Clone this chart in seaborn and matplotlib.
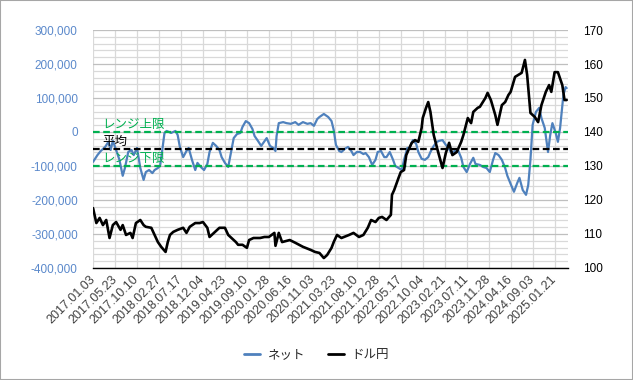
import pandas as pd
import matplotlib
matplotlib.use('Agg')
import matplotlib.pyplot as plt
import matplotlib.ticker as mticker
import matplotlib.transforms as mtransforms
from matplotlib.lines import Line2D
from matplotlib.patches import Rectangle
import seaborn as sns

# ネット（投機筋ポジション）: 週次の主な点を読み取り
net_dates = [
    '2017-01-03', '2017-01-31', '2017-02-21', '2017-03-21', '2017-04-11', '2017-04-25', '2017-05-09',
    '2017-05-30', '2017-06-20', '2017-07-11', '2017-07-25', '2017-08-15', '2017-09-05', '2017-09-19',
    '2017-10-10', '2017-10-31', '2017-11-21', '2017-12-05', '2017-12-26', '2018-01-16', '2018-01-30',
    '2018-02-20', '2018-03-06', '2018-03-20', '2018-04-03', '2018-04-17', '2018-05-15', '2018-06-12',
    '2018-06-26', '2018-07-10', '2018-07-31', '2018-08-21', '2018-09-04', '2018-09-25', '2018-10-16',
    '2018-10-30', '2018-11-20', '2018-12-11', '2019-01-01', '2019-01-15', '2019-02-05', '2019-02-26',
    '2019-03-19', '2019-04-02', '2019-04-23', '2019-05-14', '2019-06-04', '2019-06-18', '2019-07-09',
    '2019-07-30', '2019-08-13', '2019-09-03', '2019-09-24', '2019-10-15', '2019-10-29', '2019-11-19',
    '2019-12-10', '2019-12-24', '2020-01-14', '2020-02-04', '2020-02-25', '2020-03-10', '2020-03-17',
    '2020-03-31', '2020-04-28', '2020-05-19', '2020-06-16', '2020-07-14', '2020-08-04', '2020-09-01',
    '2020-09-29', '2020-10-20', '2020-11-10', '2020-12-01', '2020-12-15', '2021-01-12', '2021-02-09',
    '2021-03-02', '2021-03-16', '2021-03-30', '2021-04-20', '2021-05-04', '2021-05-25', '2021-06-15',
    '2021-07-06', '2021-07-20', '2021-08-10', '2021-08-31', '2021-09-21', '2021-10-05', '2021-10-26',
    '2021-11-16', '2021-12-07', '2021-12-21', '2022-01-11', '2022-02-01', '2022-02-15', '2022-03-08',
    '2022-03-29', '2022-04-12', '2022-05-03', '2022-05-24', '2022-06-07', '2022-06-28', '2022-07-12',
    '2022-08-02', '2022-08-23', '2022-09-06', '2022-09-27', '2022-10-18', '2022-11-08', '2022-11-22',
    '2022-12-13', '2023-01-03', '2023-01-17', '2023-02-07', '2023-02-28', '2023-03-21', '2023-04-04',
    '2023-04-25', '2023-05-16', '2023-06-06', '2023-06-20', '2023-07-11', '2023-08-01', '2023-08-22',
    '2023-09-05', '2023-10-03', '2023-10-24', '2023-11-14', '2023-12-05', '2023-12-26', '2024-01-09',
    '2024-01-30', '2024-02-20', '2024-03-12', '2024-03-26', '2024-04-16', '2024-05-07', '2024-05-28',
    '2024-06-11', '2024-07-02', '2024-07-23', '2024-08-06', '2024-08-20', '2024-09-03', '2024-09-24',
    '2024-10-15', '2024-10-29', '2024-11-19', '2024-12-10', '2024-12-24', '2025-01-07', '2025-01-28',
    '2025-02-11', '2025-02-25', '2025-03-18', '2025-04-01', '2025-04-08',
]
net_values = [
    -88000, -68000, -56000, -44000, -29000, -53000, -26000,
    -53000, -82000, -129000, -106000, -59000, -53000, -68000,
    -47000, -106000, -141000, -118000, -112000, -121000, -112000,
    -106000, -100000, -53000, -3000, 3000, -3000, 3000,
    -9000, -44000, -74000, -56000, -47000, -82000, -112000,
    -91000, -103000, -112000, -94000, -59000, -32000, -41000,
    -53000, -74000, -91000, -103000, -53000, -18000, -6000,
    -3000, 15000, 32000, 26000, 9000, -12000, -26000,
    -41000, -32000, -18000, -41000, -47000, -56000, -12000,
    26000, 29000, 26000, 24000, 29000, 21000, 29000,
    24000, 26000, 18000, 38000, 44000, 53000, 44000,
    32000, 6000, -38000, -56000, -59000, -50000, -44000,
    -56000, -68000, -59000, -59000, -65000, -62000, -74000,
    -97000, -82000, -59000, -56000, -74000, -74000, -59000,
    -82000, -100000, -106000, -112000, -82000, -47000, -47000,
    -24000, -35000, -59000, -79000, -82000, -74000, -59000,
    -41000, -29000, -26000, -24000, -38000, -50000, -62000,
    -56000, -53000, -76000, -103000, -118000, -94000, -76000,
    -94000, -97000, -103000, -106000, -118000, -82000, -62000,
    -68000, -82000, -106000, -129000, -153000, -176000, -150000,
    -135000, -171000, -185000, -156000, -82000, 21000, 59000,
    71000, 41000, 12000, -59000, -9000, 26000, -3000,
    -29000, 12000, 109000, 132000, 129000,
]

# ドル円
usdjpy_dates = [
    '2017-01-03', '2017-01-24', '2017-02-14', '2017-03-07', '2017-03-28', '2017-04-18', '2017-05-09',
    '2017-05-30', '2017-06-27', '2017-07-11', '2017-08-01', '2017-08-29', '2017-09-12', '2017-10-03',
    '2017-10-31', '2017-11-21', '2017-12-05', '2018-01-09', '2018-01-30', '2018-02-20', '2018-03-13',
    '2018-04-10', '2018-04-24', '2018-05-08', '2018-05-29', '2018-06-26', '2018-07-31', '2018-08-21',
    '2018-09-11', '2018-10-16', '2018-11-13', '2018-12-04', '2019-01-01', '2019-01-15', '2019-02-19',
    '2019-03-19', '2019-04-23', '2019-05-14', '2019-07-02', '2019-07-16', '2019-08-13', '2019-09-10',
    '2019-09-24', '2019-10-22', '2019-12-03', '2019-12-31', '2020-01-28', '2020-03-03', '2020-03-10',
    '2020-03-31', '2020-04-21', '2020-06-09', '2020-07-14', '2020-09-01', '2020-10-20', '2020-11-17',
    '2020-12-15', '2021-01-12', '2021-02-02', '2021-03-02', '2021-03-16', '2021-04-06', '2021-05-04',
    '2021-06-22', '2021-07-20', '2021-08-24', '2021-09-21', '2021-10-19', '2021-11-09', '2021-12-07',
    '2021-12-28', '2022-01-18', '2022-02-15', '2022-03-15', '2022-03-22', '2022-04-05', '2022-05-03',
    '2022-05-17', '2022-06-07', '2022-06-21', '2022-07-05', '2022-07-26', '2022-08-16', '2022-09-06',
    '2022-09-27', '2022-10-04', '2022-10-25', '2022-11-08', '2022-11-22', '2022-12-13', '2023-01-10',
    '2023-02-07', '2023-02-28', '2023-03-21', '2023-04-11', '2023-05-09', '2023-06-06', '2023-06-20',
    '2023-07-18', '2023-08-08', '2023-08-22', '2023-09-19', '2023-10-03', '2023-11-07', '2023-11-21',
    '2023-12-12', '2024-01-09', '2024-01-23', '2024-02-20', '2024-03-12', '2024-04-02', '2024-04-16',
    '2024-05-14', '2024-06-04', '2024-06-25', '2024-07-16', '2024-07-30', '2024-08-20', '2024-09-17',
    '2024-10-08', '2024-10-29', '2024-11-26', '2024-12-17', '2024-12-31', '2025-01-21', '2025-02-11',
    '2025-03-11', '2025-03-25', '2025-04-08',
]
usdjpy_values = [
    117.6, 113.2, 114.7, 112.6, 114.1, 108.8, 112.6,
    113.5, 111.2, 112.6, 109.7, 110.3, 108.8, 113.2,
    114.1, 112.6, 112.1, 111.8, 109.7, 107.6, 106.2,
    104.7, 107.6, 109.7, 110.6, 111.2, 111.8, 110.3,
    112.1, 113.2, 113.2, 113.5, 111.8, 109.1, 110.6,
    111.8, 111.8, 109.7, 107.6, 106.8, 106.8, 105.9,
    108.2, 108.8, 108.8, 109.1, 109.1, 110.3, 106.5,
    110.3, 107.6, 108.2, 107.4, 106.2, 105.3, 104.7,
    104.4, 102.9, 103.8, 105.9, 107.6, 109.7, 108.8,
    109.7, 110.3, 109.1, 109.7, 111.8, 114.1, 113.5,
    114.7, 115.0, 114.1, 115.6, 121.5, 122.9, 126.5,
    128.2, 128.8, 133.2, 134.7, 136.8, 137.6, 137.1,
    141.2, 144.1, 147.1, 148.8, 145.9, 139.1, 134.1,
    129.4, 133.8, 136.8, 133.2, 134.1, 137.1, 139.1,
    144.1, 142.6, 145.9, 147.1, 147.4, 150.0, 151.5,
    149.4, 145.0, 142.1, 147.9, 148.8, 150.9, 151.8,
    156.2, 156.8, 157.4, 161.2, 156.8, 145.6, 144.4,
    142.9, 147.9, 151.8, 153.8, 151.8, 157.6, 157.6,
    153.8, 149.4, 149.4,
]

range_upper = 0
net_mean = -50000
range_lower = -100000

first_week = '2017-01-03'
last_week = '2025-04-08'

BLUE = '#4F81BD'
GREEN = '#00B050'


def plot_net_vs_usdjpy():
    sns.set_style('white')
    plt.rcParams['font.family'] = ['Liberation Sans', 'Noto Sans CJK JP']

    fig = plt.figure(figsize=(6.33, 3.8), dpi=100)
    ax = fig.add_axes([0.147, 0.295, 0.75, 0.626])
    ax2 = ax.twinx()

    net_df = pd.DataFrame({'date': pd.to_datetime(net_dates), 'net': net_values})
    fx_df = pd.DataFrame({'date': pd.to_datetime(usdjpy_dates), 'usdjpy': usdjpy_values})

    sns.lineplot(data=net_df, x='date', y='net', ax=ax, color=BLUE, linewidth=1.6, zorder=3)

    # range lines
    dash = (0, (3, 1.6))
    ax.axhline(range_upper, color=GREEN, lw=1.6, ls=dash, zorder=4)
    ax.axhline(net_mean, color='black', lw=1.6, ls=dash, zorder=4)
    ax.axhline(range_lower, color=GREEN, lw=1.6, ls=dash, zorder=4)

    trans = mtransforms.blended_transform_factory(ax.transAxes, ax.transData)
    ax.text(0.02, range_upper + 2500, 'レンジ上限', color=GREEN, fontsize=9,
            transform=trans, va='bottom', ha='left', zorder=5)
    ax.text(0.02, net_mean + 2500, '平均', color='black', fontsize=9,
            transform=trans, va='bottom', ha='left', zorder=5)
    ax.text(0.02, range_lower + 2500, 'レンジ下限', color=GREEN, fontsize=9,
            transform=trans, va='bottom', ha='left', zorder=5)

    sns.lineplot(data=fx_df, x='date', y='usdjpy', ax=ax2, color='black', linewidth=1.9)

    # x axis: weekly categories, label every 20 weeks
    start = pd.Timestamp(first_week)
    end = pd.Timestamp(last_week) + pd.Timedelta(days=7)
    ax.set_xlim(start, end)
    tick_dates = pd.date_range(first_week, last_week, freq='140D')
    ax.set_xticks(tick_dates)
    ax.set_xticklabels([d.strftime('%Y.%m.%d') for d in tick_dates], rotation=45,
                       ha='right', va='center', rotation_mode='anchor', fontsize=9, color='#404040')
    ax.tick_params(axis='x', length=0, pad=7)

    # left axis
    ax.set_ylim(-400000, 300000)
    ax.yaxis.set_major_locator(mticker.MultipleLocator(100000))
    ax.yaxis.set_minor_locator(mticker.MultipleLocator(20000))
    ax.yaxis.set_major_formatter(mticker.FuncFormatter(lambda v, p: f'{v:,.0f}'))
    ax.tick_params(axis='y', which='both', length=0, pad=11, labelsize=8.5, labelcolor='#5B89CB')

    # right axis
    ax2.set_ylim(100, 170)
    ax2.yaxis.set_major_locator(mticker.MultipleLocator(10))
    ax2.tick_params(axis='y', length=0, pad=11, labelsize=8.5, labelcolor='black')

    ax.grid(which='major', axis='y', color='#BFBFBF', lw=0.9)
    ax.grid(which='minor', axis='y', color='#D9D9D9', lw=0.9)
    ax.grid(which='major', axis='x', color='#D9D9D9', lw=0.9)
    ax.set_axisbelow(True)

    for side in ['top', 'left', 'right']:
        ax.spines[side].set_visible(False)
        ax2.spines[side].set_visible(False)
    ax.spines['bottom'].set_color('black')
    ax.spines['bottom'].set_linewidth(1.0)
    ax2.spines['bottom'].set_visible(False)

    ax.set_xlabel('')
    ax.set_ylabel('')
    ax2.set_xlabel('')
    ax2.set_ylabel('')

    handles = [Line2D([], [], color=BLUE, lw=2), Line2D([], [], color='black', lw=2)]
    fig.legend(handles=handles, labels=['ネット', 'ドル円'], loc='center',
               bbox_to_anchor=(0.5, 0.066), ncol=2, frameon=False, fontsize=9,
               handlelength=1.3, handletextpad=0.6, columnspacing=1.8)

    fig.add_artist(Rectangle((0, 0), 1, 1, transform=fig.transFigure, fill=False,
                             edgecolor='#A6A6A6', lw=1.5))

    fig.savefig('out.png', dpi=100)


def main():
    plot_net_vs_usdjpy()


if __name__ == "__main__":
    main()
